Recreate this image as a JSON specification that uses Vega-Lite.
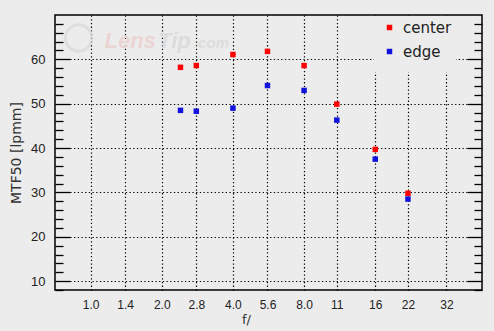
{
  "$schema": "https://vega.github.io/schema/vega-lite/v6.json",
  "width": 427,
  "height": 275,
  "autosize": {"type": "none"},
  "padding": {"left": 55, "top": 15, "right": 12, "bottom": 41},
  "background": "#ececec",
  "config": {
    "view": {"stroke": "#000000", "strokeWidth": 1.5, "fill": "#ececec"},
    "axis": {
      "labelFont": "Liberation Sans",
      "labelFontSize": 12,
      "labelColor": "#222222",
      "titleFont": "DejaVu Sans",
      "titleFontWeight": "normal",
      "titleColor": "#333333",
      "gridColor": "#000000",
      "gridDash": [1.3, 2.4],
      "gridWidth": 1.2,
      "gridOpacity": 1,
      "domain": false,
      "tickColor": "#000000",
      "tickWidth": 1.3
    }
  },
  "datasets": {
    "mtf": [
      {"f": 2.4, "mtf": 58.2, "series": "center"},
      {"f": 2.8, "mtf": 58.6, "series": "center"},
      {"f": 4.0, "mtf": 61.1, "series": "center"},
      {"f": 5.6, "mtf": 61.8, "series": "center"},
      {"f": 8.0, "mtf": 58.6, "series": "center"},
      {"f": 11, "mtf": 49.9, "series": "center"},
      {"f": 16, "mtf": 39.7, "series": "center"},
      {"f": 22, "mtf": 29.8, "series": "center"},
      {"f": 2.4, "mtf": 48.5, "series": "edge"},
      {"f": 2.8, "mtf": 48.3, "series": "edge"},
      {"f": 4.0, "mtf": 49.0, "series": "edge"},
      {"f": 5.6, "mtf": 54.1, "series": "edge"},
      {"f": 8.0, "mtf": 53.0, "series": "edge"},
      {"f": 11, "mtf": 46.3, "series": "edge"},
      {"f": 16, "mtf": 37.5, "series": "edge"},
      {"f": 22, "mtf": 28.5, "series": "edge"}
    ],
    "logo": [{"site": "LensTip.com"}]
  },
  "data": {"name": "mtf"},
  "layer": [
    {
      "data": {"name": "logo"},
      "mark": {"type": "point", "shape": "circle", "filled": false, "size": 700, "stroke": "#d9d9d9", "strokeWidth": 3},
      "encoding": {
        "x": {"datum": 0.89, "type": "quantitative", "axis": null},
        "y": {"datum": 64.8, "type": "quantitative", "axis": null}
      }
    },
    {
      "data": {"name": "logo"},
      "mark": {"type": "text", "text": "Lens", "font": "Liberation Sans", "fontSize": 22, "fontWeight": "bold", "fontStyle": "italic", "align": "left", "baseline": "alphabetic", "color": "#ebd5d3"},
      "encoding": {
        "x": {"datum": 1.146, "type": "quantitative", "axis": null},
        "y": {"datum": 62.55, "type": "quantitative", "axis": null}
      }
    },
    {
      "data": {"name": "logo"},
      "mark": {"type": "text", "text": "Tip", "font": "Liberation Sans", "fontSize": 22, "fontWeight": "bold", "fontStyle": "italic", "align": "left", "baseline": "alphabetic", "color": "#dcdcdc"},
      "encoding": {
        "x": {"datum": 1.93, "type": "quantitative", "axis": null},
        "y": {"datum": 62.55, "type": "quantitative", "axis": null}
      }
    },
    {
      "data": {"name": "logo"},
      "mark": {"type": "text", "text": ".com", "font": "Liberation Sans", "fontSize": 15, "fontWeight": "bold", "fontStyle": "italic", "align": "left", "baseline": "alphabetic", "color": "#dcdcdc"},
      "encoding": {
        "x": {"datum": 2.74, "type": "quantitative", "axis": null},
        "y": {"datum": 62.55, "type": "quantitative", "axis": null}
      }
    },
    {
      "mark": {"type": "point", "shape": "square", "filled": true, "size": 30, "opacity": 1},
      "encoding": {
        "x": {
          "field": "f",
          "type": "quantitative",
          "scale": {"type": "log", "domain": [0.707, 45.25], "nice": false},
          "axis": {
            "orient": "bottom",
            "values": [1, 1.4, 2, 2.8, 4, 5.6, 8, 11, 16, 22, 32],
            "labelExpr": "datum.value < 10 ? format(datum.value, '.1f') : format(datum.value, 'd')",
            "ticks": false,
            "grid": true,
            "labelPadding": 9,
            "title": "f/",
            "titleFontSize": 13,
            "titleX": 191,
            "titleY": 23
          }
        },
        "y": {
          "field": "mtf",
          "type": "quantitative",
          "scale": {"domain": [8, 70], "nice": false, "zero": false},
          "axis": {
            "orient": "left",
            "values": [10, 20, 30, 40, 50, 60],
            "ticks": false,
            "grid": true,
            "labelPadding": 10,
            "labelFontSize": 13,
            "title": "MTF50 [lpmm]",
            "titleFontSize": 14,
            "titlePadding": 7
          }
        },
        "color": {
          "field": "series",
          "type": "nominal",
          "scale": {"domain": ["center", "edge"], "range": ["#ff0000", "#1212dd"]},
          "legend": {
            "orient": "none",
            "legendX": 319,
            "legendY": 1,
            "title": " ",
            "titleOrient": "bottom",
            "titleFontSize": 6,
            "titlePadding": 2,
            "fillColor": "#ececec",
            "strokeColor": null,
            "padding": 4,
            "symbolType": "square",
            "symbolSize": 30,
            "symbolStrokeWidth": 0,
            "labelFont": "DejaVu Sans",
            "labelFontSize": 15,
            "labelColor": "#222222",
            "labelOffset": 6,
            "rowPadding": 8,
            "symbolOffset": 4
          }
        }
      }
    },
    {
      "mark": {"type": "point", "opacity": 0},
      "encoding": {
        "x": {"field": "f", "type": "quantitative", "axis": null},
        "y": {"field": "mtf", "type": "quantitative", "axis": {"orient": "left", "values": [10, 20, 30, 40, 50, 60], "tickSize": -15, "labels": false, "grid": false, "title": null}}
      }
    },
    {
      "mark": {"type": "point", "opacity": 0},
      "encoding": {
        "x": {"field": "f", "type": "quantitative", "axis": null},
        "y": {"field": "mtf", "type": "quantitative", "axis": {"orient": "left", "values": [8, 12, 14, 16, 18, 22, 24, 26, 28, 32, 34, 36, 38, 42, 44, 46, 48, 52, 54, 56, 58, 62, 64, 66, 68], "tickSize": -8, "labels": false, "grid": false, "title": null}}
      }
    },
    {
      "mark": {"type": "point", "opacity": 0},
      "encoding": {
        "x": {"field": "f", "type": "quantitative", "axis": null},
        "y": {"field": "mtf", "type": "quantitative", "axis": {"orient": "right", "values": [10, 20, 30, 40, 50, 60], "tickSize": -15, "labels": false, "grid": false, "title": null}}
      }
    },
    {
      "mark": {"type": "point", "opacity": 0},
      "encoding": {
        "x": {"field": "f", "type": "quantitative", "axis": null},
        "y": {"field": "mtf", "type": "quantitative", "axis": {"orient": "right", "values": [8, 12, 14, 16, 18, 22, 24, 26, 28, 32, 34, 36, 38, 42, 44, 46, 48, 52, 54, 56, 58, 62, 64, 66, 68], "tickSize": -8, "labels": false, "grid": false, "title": null}}
      }
    }
  ],
  "resolve": {"axis": {"x": "independent", "y": "independent"}}
}
